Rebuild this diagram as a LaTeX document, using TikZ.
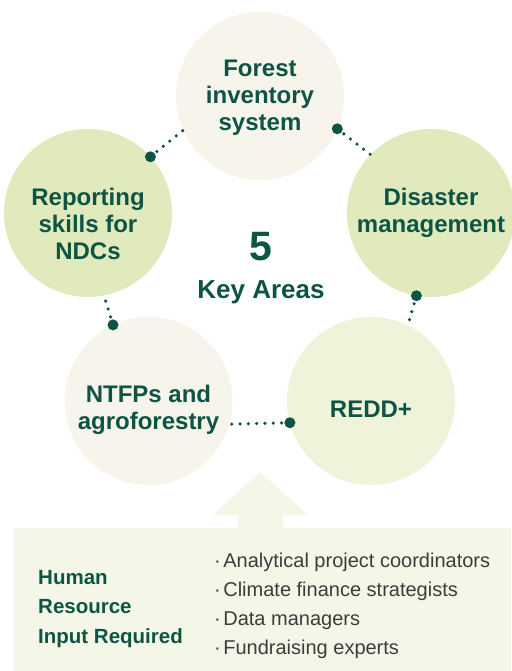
\documentclass[tikz,border=0pt]{standalone}
\usepackage{fontspec}
\setmainfont{Liberation Sans}
\definecolor{dkgreen}{HTML}{0E5444}
\definecolor{beige}{HTML}{F7F4EB}
\definecolor{leaf}{HTML}{E1EABD}
\definecolor{paleleaf}{HTML}{EEF3DA}
\definecolor{boxbg}{HTML}{F4F7E7}
\definecolor{itemgray}{HTML}{3C3C3C}
\tikzset{
  area/.style={circle, minimum size=168pt, inner sep=0pt, outer sep=0pt},
  areatext/.style={text=dkgreen, font=\bfseries\fontsize{24}{27}\selectfont, align=center},
  bigdot/.style={circle, fill=dkgreen, minimum size=11pt, inner sep=0pt, outer sep=0pt},
  dotline/.style={draw=dkgreen, line width=3.6pt, line cap=round, dash pattern=on 0pt off 8.3pt},
}
\begin{document}
\begin{tikzpicture}[x=1pt, y=-1pt]
\useasboundingbox (0,0) rectangle (511,671);
% circles
\node[area, fill=beige] (top) at (260,96) {};
\node[area, fill=leaf] (rep) at (88,213) {};
\node[area, fill=leaf] (dis) at (431,213) {};
\node[area, fill=beige] (ntf) at (148.5,401) {};
\node[area, fill=paleleaf] (red) at (371,401) {};
% texts
\node[areatext] (toptxt) at (260,98) {Forest\\inventory\\system};
\node[areatext] (reptxt) at (88,224) {Reporting\\skills for\\NDCs};
\node[areatext] (distxt) at (431,213) {Disaster\\management};
\node[areatext] (ntftxt) at (148.5,410) {NTFPs and\\agroforestry};
\node[areatext] (redtxt) at (371,409) {REDD+};
\node[text=dkgreen, font=\bfseries\fontsize{41}{41}\selectfont] (five) at (261,247) {5};
\node[text=dkgreen, font=\bfseries\fontsize{26}{28}\selectfont] (key) at (261,292) {Key Areas};
% connectors
\node[bigdot] (d1) at (rep.42.6) {};
\draw[dotline] (d1.center) -- (top.204);
\node[bigdot] (d2) at (top.-23.7) {};
\draw[dotline] (d2.center) -- (dis.136.9);
\node[bigdot] (d3) at (dis.-100) {};
\draw[dotline] (d3.center) -- (red.64.6);
\node[bigdot] (d4) at (red.195.6) {};
\draw[dotline] (d4.center) -- (ntf.-16);
\node[bigdot] (d5) at (ntf.115) {};
\draw[dotline] (d5.center) -- (rep.-79);
% bottom box with arrow
\fill[boxbg] (14,528) -- (238,528) -- (238,515) -- (213,515) -- (260,472) -- (308,515) -- (283,515) -- (283,528) -- (511,528) -- (511,671) -- (14,671) -- cycle;
\node[anchor=west, text=dkgreen, font=\bfseries\fontsize{20.5}{29.5}\selectfont, align=left, inner sep=0pt] (hr) at (38,609) {Human\\Resource\\Input Required};
\node[anchor=west, text=itemgray, font=\fontsize{20}{29}\selectfont, align=left, inner sep=0pt] (items) at (214,605.5) {·\hspace{2.5pt}Analytical project coordinators\\·\hspace{2.5pt}Climate finance strategists\\·\hspace{2.5pt}Data managers\\·\hspace{2.5pt}Fundraising experts};
\end{tikzpicture}
\end{document}
